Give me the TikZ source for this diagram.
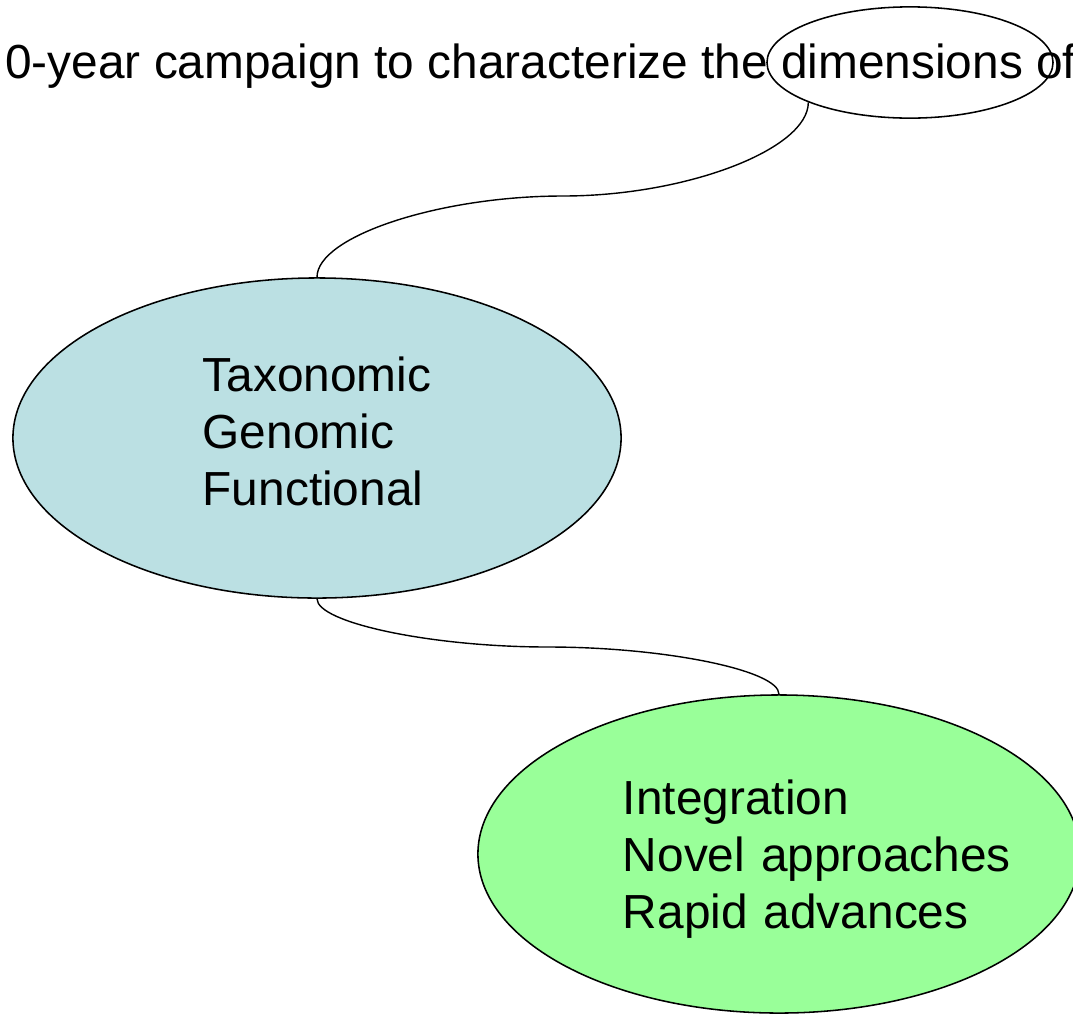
\documentclass[tikz,border=0pt]{standalone}
\usepackage{fontspec}
\setmainfont{Liberation Sans}
\usetikzlibrary{arrows,positioning,shapes.geometric}

\definecolor{taxblue}{RGB}{187,224,227}
\definecolor{synthgreen}{RGB}{153,255,153}

\tikzset{
	slidefont/.style={font=\fontsize{34}{40.5}\selectfont},
	bubble/.style={draw,ellipse,line width=1.1pt,inner sep=0pt,slidefont},
	link/.style={line width=1pt}
}

\begin{document}
\begin{tikzpicture}[x=0.025cm,y=-0.025cm]
	% Fix the page to the cropped slide
	\useasboundingbox (0,0) rectangle (1073,1015);
	\clip (0,0) rectangle (1073,1015);
	% Draw title line
	\node[anchor=base west,inner sep=0pt,slidefont] (title) at (5,78) {0-year campaign to characterize the dimensions of};
	% Draw nodes
	\node[draw,ellipse,line width=1.1pt,minimum width=7.15cm,minimum height=2.78cm] (dims) at (910,62.5) {};
	\node[bubble,fill=taxblue,minimum width=15.2cm,minimum height=8cm,align=left,text depth=0.33cm] (omics) at (317,438) {Taxonomic\\Genomic\\Functional};
	\node[bubble,fill=synthgreen,minimum width=15.05cm,minimum height=7.95cm,text width=7.8cm,align=left,text height=1.1cm] (synth) at (779,854) {Integration\\\mbox{Novel approaches}\\\mbox{Rapid advances}};
	% Bend points of the connectors
	\coordinate (bendA) at (563,196);
	\coordinate (bendB) at (548,647);
	% Draw connectors
	\draw[link] (dims.south west) .. controls +(0,47) and +(123,0) .. (bendA) .. controls +(-123,0) and +(0,-41) .. (omics.north);
	\draw[link] (omics.south) .. controls +(0,24) and +(-116,0) .. (bendB) .. controls +(116,0) and +(0,-24) .. (synth.north);
\end{tikzpicture}
\end{document}
